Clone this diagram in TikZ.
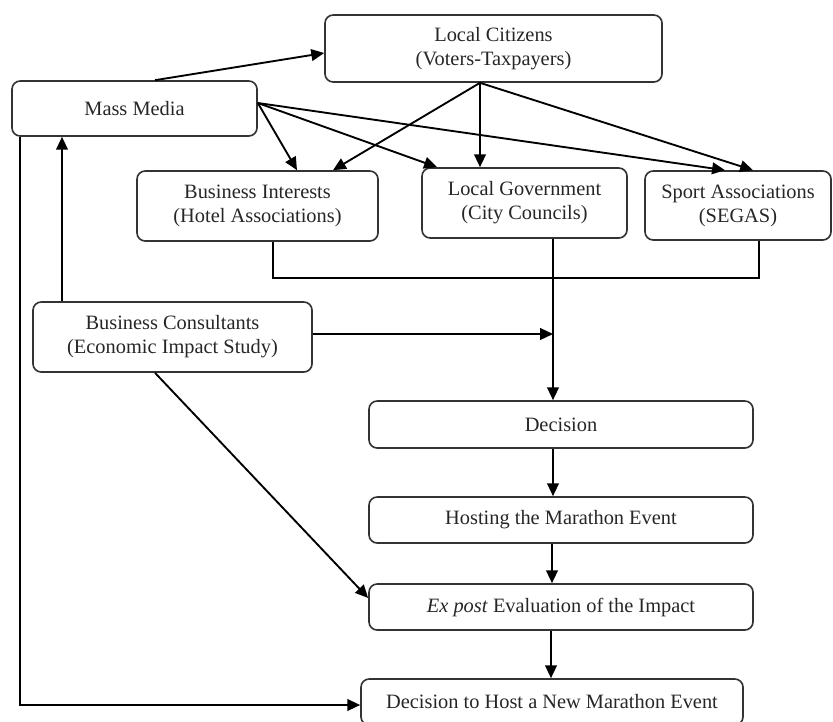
\documentclass[tikz,border=0pt]{standalone}
\usepackage{fontspec}
\setmainfont{Liberation Serif}
\usetikzlibrary{arrows.meta,calc}
\begin{document}
\begin{tikzpicture}[x=0.03cm,y=-0.03cm,
  box/.style={draw=black!80, rounded corners=7pt, line width=1.4pt, inner sep=0pt,
    align=center, text=black!85, font=\fontsize{17.4}{20.5}\selectfont},
  link/.style={line width=1.6pt, -{Triangle[length=11pt,width=10pt]}},
  joinline/.style={line width=1.6pt}]
\useasboundingbox (0,0) rectangle (833,722);

% actors
\node[box, minimum width=10.11cm, minimum height=2.01cm] (cit) at (493.5,48.5) {Local Citizens\\(Voters-Taxpayers)};
\node[box, minimum width=7.35cm, minimum height=1.65cm] (mm) at (134.5,108.5) {Mass Media};
\node[box, minimum width=7.23cm, minimum height=2.1cm] (bi) at (257.5,206) {Business Interests\\(Hotel Associations)};
\node[box, minimum width=6.15cm, minimum height=2.1cm] (lg) at (524.5,203) {Local Government\\(City Councils)};
\node[box, minimum width=5.58cm, minimum height=2.07cm] (sa) at (738,205.5) {Sport Associations\\(SEGAS)};
\node[box, minimum width=8.37cm, minimum height=2.1cm] (bc) at (172.5,337) {Business Consultants\\(Economic Impact Study)};

% process chain
\node[box, minimum width=11.52cm, minimum height=1.41cm] (dec) at (561,424.5) {Decision};
\node[box, minimum width=11.52cm, minimum height=1.38cm] (host) at (561,520) {Hosting the Marathon Event};
\node[box, minimum width=11.52cm, minimum height=1.38cm] (expost) at (561,607) {\textit{Ex post} Evaluation of the Impact};
\node[box, minimum width=11.46cm, minimum height=1.38cm] (new) at (552,702) {Decision to Host a New Marathon Event};

% media influence
\draw[link] (mm.north -| 155,0) -- (cit.west |- 0,53);
\draw[link] (mm.east |- 0,103) -- (bi.north -| 297,0);
\draw[link] (mm.east |- 0,103) -- (lg.north -| 437,0);
\draw[link] (mm.east |- 0,103) -- (sa.north -| 725,0);

% citizens influence
\draw[link] (cit.south -| 480,0) -- (bi.north -| 333,0);
\draw[link] (cit.south -| 480,0) -- (lg.north -| 480,0);
\draw[link] (cit.south -| 480,0) -- (sa.north -| 753,0);

% stakeholders join into the decision
\coordinate (jl) at (273,278);
\coordinate (jr) at (759,278);
\coordinate (join) at (553,334);
\draw[joinline] (bi.south -| jl) -- (jl) -- (jr) -- (sa.south -| jr);
\draw[link] (lg.south -| join) -- (dec.north -| join);
\draw[link] (bc.east |- join) -- (join);

% consultants
\draw[link] (bc.north -| 62,0) -- (mm.south -| 62,0);
\draw[link] (bc.south -| 155,0) -- (expost.west |- 0,598);

% media feedback to the new decision
\coordinate (mmc) at (20,705);
\draw[link] (mm.south -| mmc) -- (mmc) -- (new.west |- mmc);

% chain arrows
\draw[link] (dec.south -| 553,0) -- (host.north -| 553,0);
\draw[link] (host.south -| 552,0) -- (expost.north -| 552,0);
\draw[link] (expost.south -| 551,0) -- (new.north -| 551,0);
\end{tikzpicture}
\end{document}
